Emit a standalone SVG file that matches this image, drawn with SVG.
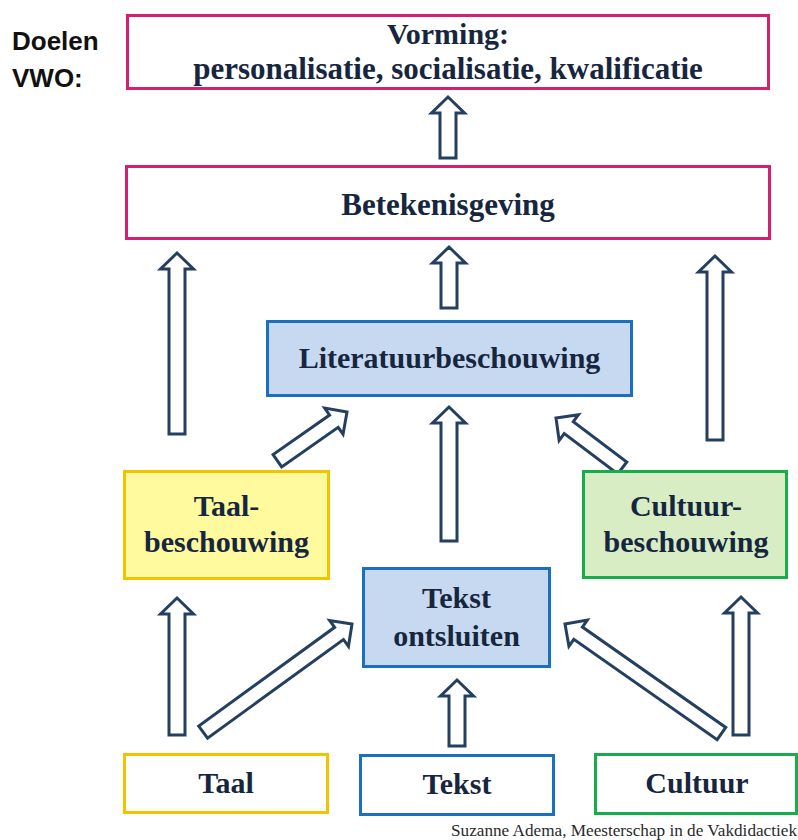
<svg xmlns="http://www.w3.org/2000/svg" width="798" height="840" viewBox="0 0 798 840">
<style>
.box{stroke-width:3}
.pink{fill:#ffffff;stroke:#d3206f}
.blue{fill:#c6d9f0;stroke:#1a6fc0}
.blueW{fill:#ffffff;stroke:#1a6fc0}
.yel{fill:#fffa9e;stroke:#f2c400}
.yelW{fill:#ffffff;stroke:#f2c400}
.grn{fill:#d8edc4;stroke:#17ad4a}
.grnW{fill:#ffffff;stroke:#17ad4a}
.t{font-family:"Liberation Serif","Times New Roman",serif;font-weight:bold;font-size:30px;fill:#17263f;text-anchor:middle}
.arr{fill:#ffffff;stroke:#243f60;stroke-width:3;stroke-linejoin:miter}
.hd{font-family:"Liberation Sans",Arial,sans-serif;font-weight:bold;font-size:26px;fill:#111111}
.cap{font-family:"Liberation Serif","Times New Roman",serif;font-size:17px;fill:#2a2a2a}
</style>
<rect width="798" height="840" fill="#ffffff"/>
<g id="label-doelen">
<text class="hd" x="12" y="50">Doelen</text>
<text class="hd" x="12" y="87">VWO:</text>
</g>
<g id="connectors">
<path class="arr" transform="translate(448,97)" d="M0,0 L16.5,16 L8,16 L8,61 L-8,61 L-8,16 L-16.5,16 Z"/>
<path class="arr" transform="translate(449,247)" d="M0,0 L16.5,16 L8,16 L8,61 L-8,61 L-8,16 L-16.5,16 Z"/>
<path class="arr" transform="translate(177,253)" d="M0,0 L16.5,16 L8,16 L8,181 L-8,181 L-8,16 L-16.5,16 Z"/>
<path class="arr" transform="translate(715,256)" d="M0,0 L16.5,16 L8,16 L8,184 L-8,184 L-8,16 L-16.5,16 Z"/>
<path class="arr" transform="translate(449,407)" d="M0,0 L16.5,16 L8,16 L8,134 L-8,134 L-8,16 L-16.5,16 Z"/>
<path class="arr" transform="translate(347,412) rotate(55)" d="M0,0 L16,16 L7.5,16 L7.5,85 L-7.5,85 L-7.5,16 L-16,16 Z"/>
<path class="arr" transform="translate(556,418) rotate(-53)" d="M0,0 L16,16 L7.5,16 L7.5,83 L-7.5,83 L-7.5,16 L-16,16 Z"/>
<path class="arr" transform="translate(177,598)" d="M0,0 L16.5,16 L8,16 L8,137 L-8,137 L-8,16 L-16.5,16 Z"/>
<path class="arr" transform="translate(352,624) rotate(54)" d="M0,0 L16,16 L7.5,16 L7.5,184 L-7.5,184 L-7.5,16 L-16,16 Z"/>
<path class="arr" transform="translate(457,680)" d="M0,0 L16.5,16 L8,16 L8,66 L-8,66 L-8,16 L-16.5,16 Z"/>
<path class="arr" transform="translate(565,624) rotate(-55)" d="M0,0 L16,16 L7.5,16 L7.5,191 L-7.5,191 L-7.5,16 L-16,16 Z"/>
<path class="arr" transform="translate(741,597)" d="M0,0 L16.5,16 L8,16 L8,138 L-8,138 L-8,16 L-16.5,16 Z"/>
</g>
<g id="node-vorming">
<rect class="box pink" x="127.5" y="15.5" width="641" height="73"/>
<text class="t" x="448" y="44">Vorming:</text>
<text class="t" x="448" y="79" style="font-size:31px">personalisatie, socialisatie, kwalificatie</text>
</g>
<g id="node-betekenisgeving">
<rect class="box pink" x="126.5" y="166.5" width="643" height="72"/>
<text class="t" x="448" y="215" style="font-size:31px">Betekenisgeving</text>
</g>
<g id="node-literatuurbeschouwing">
<rect class="box blue" x="267.5" y="321.5" width="364" height="74"/>
<text class="t" x="449.5" y="368">Literatuurbeschouwing</text>
</g>
<g id="node-taalbeschouwing">
<rect class="box yel" x="124.5" y="471.5" width="204" height="107"/>
<text class="t" x="226.5" y="516">Taal-</text>
<text class="t" x="226.5" y="552">beschouwing</text>
</g>
<g id="node-cultuurbeschouwing">
<rect class="box grn" x="583.5" y="471.5" width="203" height="106"/>
<text class="t" x="686" y="516">Cultuur-</text>
<text class="t" x="686" y="552">beschouwing</text>
</g>
<g id="node-tekstontsluiten">
<rect class="box blue" x="363.5" y="568.5" width="186" height="98"/>
<text class="t" x="456.5" y="608">Tekst</text>
<text class="t" x="456.5" y="646">ontsluiten</text>
</g>
<g id="node-taal">
<rect class="box yelW" x="124.5" y="754.5" width="203" height="58"/>
<text class="t" x="226" y="793">Taal</text>
</g>
<g id="node-tekst">
<rect class="box blueW" x="360.5" y="755.5" width="193" height="59"/>
<text class="t" x="457" y="794">Tekst</text>
</g>
<g id="node-cultuur">
<rect class="box grnW" x="595.5" y="754.5" width="201" height="59"/>
<text class="t" x="697" y="793">Cultuur</text>
</g>
<text class="cap" x="451" y="836" textLength="346" lengthAdjust="spacingAndGlyphs">Suzanne Adema, Meesterschap in de Vakdidactiek</text>
</svg>
